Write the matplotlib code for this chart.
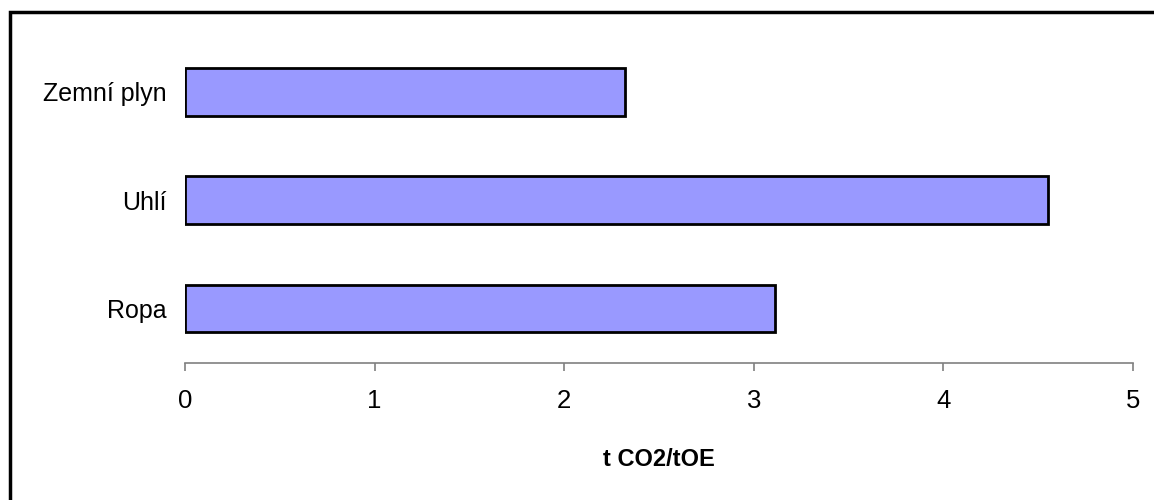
import matplotlib
matplotlib.use("Agg")
import matplotlib.pyplot as plt
from matplotlib.patches import Rectangle

# data (t CO2 per tOE), bottom to top as in the chart
categories = ["Ropa", "Uhlí", "Zemní plyn"]
values = [3.11, 4.55, 2.32]
x_ticks = [0, 1, 2, 3, 4, 5]
x_label = "t CO2/tOE"

plt.rcParams["font.family"] = ["Liberation Sans", "DejaVu Sans"]

W, H = 1154, 500
fig = plt.figure(figsize=(W / 100, H / 100), dpi=100)
ax = fig.add_axes([185 / W, 1 - 362.5 / H, (1133 - 185) / W, (362.5 - 37.5) / H])

ax.barh(range(len(categories)), values, height=0.44,
        color="#9999FF", edgecolor="black", linewidth=2)

ax.set_xlim(0, 5)
ax.set_ylim(-0.5, len(categories) - 0.5)
ax.set_xticks(x_ticks)
ax.set_yticks(range(len(categories)))
ax.set_yticklabels(categories)

for side in ["top", "right", "left"]:
    ax.spines[side].set_visible(False)
ax.spines["bottom"].set_color("#808080")
ax.spines["bottom"].set_linewidth(1.2)

ax.tick_params(axis="x", direction="out", length=6, width=1.2, color="#808080",
               labelsize=18.5, pad=13)
ax.tick_params(axis="y", length=0, labelsize=18, pad=13)
ax.set_xlabel(x_label, fontsize=17, fontweight="bold", labelpad=25)

# black frame (only top and left edges visible in the crop)
fig.patches.append(Rectangle((10 / W, -0.2), 2.0, 1.2 - 12 / H,
                             transform=fig.transFigure, fill=False,
                             edgecolor="black", linewidth=2.5))

fig.savefig("out.png", dpi=100)
